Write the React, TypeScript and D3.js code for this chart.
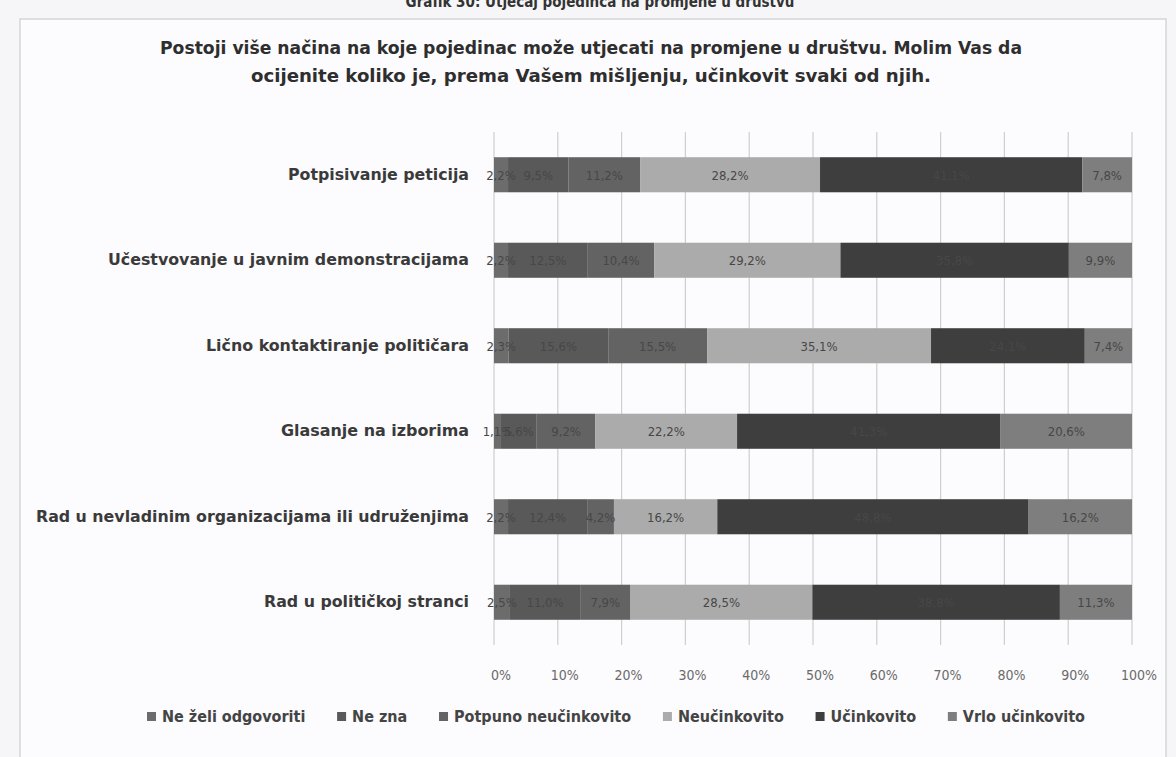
import React, { useEffect, useRef } from "react";
import * as d3 from "d3";

const categories = [
  "Potpisivanje peticija",
  "Učestvovanje u javnim demonstracijama",
  "Lično kontaktiranje političara",
  "Glasanje na izborima",
  "Rad u nevladinim organizacijama ili udruženjima",
  "Rad u političkoj stranci",
];
const seriesNames = [
  "Ne želi odgovoriti",
  "Ne zna",
  "Potpuno neučinkovito",
  "Neučinkovito",
  "Učinkovito",
  "Vrlo učinkovito",
];
const neZeliOdgovoriti = [2.2, 2.2, 2.3, 1.1, 2.2, 2.5];
const neZna = [9.5, 12.5, 15.6, 5.6, 12.4, 11.0];
const potpunoNeucinkovito = [11.2, 10.4, 15.5, 9.2, 4.2, 7.9];
const neucinkovito = [28.2, 29.2, 35.1, 22.2, 16.2, 28.5];
const ucinkovito = [41.1, 35.8, 24.1, 41.3, 48.8, 38.8];
const vrloUcinkovito = [7.8, 9.9, 7.4, 20.6, 16.2, 11.3];
const xTicks = [0, 10, 20, 30, 40, 50, 60, 70, 80, 90, 100];

const seriesColors = ["#6c6c6c", "#595959", "#636363", "#ababab", "#3e3e3e", "#7e7e7e"];

const FONT = "'Liberation Sans Narrow', 'DejaVu Sans Condensed', 'Liberation Sans', Arial, sans-serif";

export default function App() {
  const ref = useRef<SVGSVGElement | null>(null);

  useEffect(() => {
    const svg = d3.select(ref.current);
    svg.selectAll("*").remove();
    const W = 1176, H = 757;

    svg.append("rect").attr("width", W).attr("height", H).attr("fill", "#f6f5f7");

    // header partly cut off at the top, as in the scan
    svg.append("text")
      .attr("x", 600).attr("y", 7)
      .attr("text-anchor", "middle")
      .attr("font-family", FONT).attr("font-size", 15).attr("font-weight", "bold")
      .attr("fill", "#333")
      .text("Grafik 30: Utjecaj pojedinca na promjene u društvu");

    // frame
    svg.append("rect")
      .attr("x", 20).attr("y", 19).attr("width", 1146).attr("height", 760)
      .attr("fill", "#fcfbfd").attr("stroke", "#d6d6d6").attr("stroke-width", 1.5);

    // title
    const titleLines = [
      { t: "Postoji više načina na koje pojedinac može utjecati na promjene u društvu. Molim Vas da", y: 54, w: 862 },
      { t: "ocijenite koliko je, prema Vašem mišljenju, učinkovit svaki od njih.", y: 82, w: 680 },
    ];
    titleLines.forEach((l) => {
      svg.append("text")
        .attr("x", 591).attr("y", l.y)
        .attr("text-anchor", "middle")
        .attr("font-family", FONT).attr("font-size", 18).attr("font-weight", "bold")
        .attr("fill", "#2e2e2e")
        .attr("textLength", l.w).attr("lengthAdjust", "spacingAndGlyphs")
        .text(l.t);
    });

    const x = d3.scaleLinear().domain([0, 100]).range([494, 1132]);
    const y = d3.scaleBand().domain(categories).range([132, 645]).paddingInner(0.59).paddingOuter(0.295);

    // gridlines
    svg.append("g").selectAll("line").data(xTicks).join("line")
      .attr("x1", (d) => x(d)).attr("x2", (d) => x(d))
      .attr("y1", 132).attr("y2", 645)
      .attr("stroke", "#cfcfcf").attr("stroke-width", 1.2);

    const seriesData = [neZeliOdgovoriti, neZna, potpunoNeucinkovito, neucinkovito, ucinkovito, vrloUcinkovito];
    const rows = categories.map((c, i) => {
      const o: any = { cat: c };
      seriesNames.forEach((s, j) => (o[s] = seriesData[j][i]));
      return o;
    });
    const stacked = d3.stack().keys(seriesNames)(rows as any);

    const fmt = (v: number) => v.toFixed(1).replace(".", ",") + "%";

    stacked.forEach((layer, j) => {
      const g = svg.append("g");
      g.selectAll("rect").data(layer).join("rect")
        .attr("x", (d: any) => x(d[0]))
        .attr("width", (d: any) => x(d[1]) - x(d[0]))
        .attr("y", (d: any) => y(d.data.cat)!)
        .attr("height", y.bandwidth())
        .attr("fill", seriesColors[j]);
    });
    stacked.forEach((layer) => {
      svg.append("g").selectAll("text").data(layer).join("text")
        .attr("x", (d: any) => (x(d[0]) + x(d[1])) / 2)
        .attr("y", (d: any) => y(d.data.cat)! + y.bandwidth() / 2 + 5)
        .attr("text-anchor", "middle")
        .attr("font-family", FONT).attr("font-size", 13)
        .attr("fill", "#474747")
        .text((d: any) => fmt(d[1] - d[0]));
    });

    // category labels
    const catWidths = [181, 361, 263, 188, 433, 205];
    svg.append("g").selectAll("text").data(categories).join("text")
      .attr("x", 469)
      .attr("y", (d) => y(d)! + y.bandwidth() / 2 + 5)
      .attr("text-anchor", "end")
      .attr("font-family", FONT).attr("font-size", 16).attr("font-weight", "bold")
      .attr("fill", "#3a3a3a")
      .attr("textLength", (d, i) => catWidths[i]).attr("lengthAdjust", "spacingAndGlyphs")
      .text((d) => d);

    // x tick labels
    svg.append("g").selectAll("text").data(xTicks).join("text")
      .attr("x", (d) => x(d) + 7)
      .attr("y", 680)
      .attr("text-anchor", "middle")
      .attr("font-family", FONT).attr("font-size", 14)
      .attr("fill", "#6a6a6a")
      .text((d) => d + "%");

    // legend spread across 147..1085 like the reference
    const canvas = document.createElement("canvas");
    const ctx = canvas.getContext("2d")!;
    ctx.font = `bold 16px ${FONT}`;
    const sw = 9, sp = 6;
    const widths = seriesNames.map((s) => sw + sp + ctx.measureText(s).width);
    const left = 147, right = 1085;
    const gap = Math.max(10, (right - left - d3.sum(widths)) / (seriesNames.length - 1));
    let lx = left;
    const lg = svg.append("g");
    seriesNames.forEach((s, j) => {
      lg.append("rect").attr("x", lx).attr("y", 712).attr("width", sw).attr("height", sw).attr("fill", seriesColors[j]);
      lg.append("text").attr("x", lx + sw + sp).attr("y", 722)
        .attr("font-family", FONT).attr("font-size", 16).attr("font-weight", "bold")
        .attr("fill", "#444").text(s);
      lx += widths[j] + gap;
    });
  }, []);

  return (
    <svg
      ref={ref}
      width={1176}
      height={757}
      style={{ position: "absolute", left: 0, top: 0, display: "block" }}
    />
  );
}
